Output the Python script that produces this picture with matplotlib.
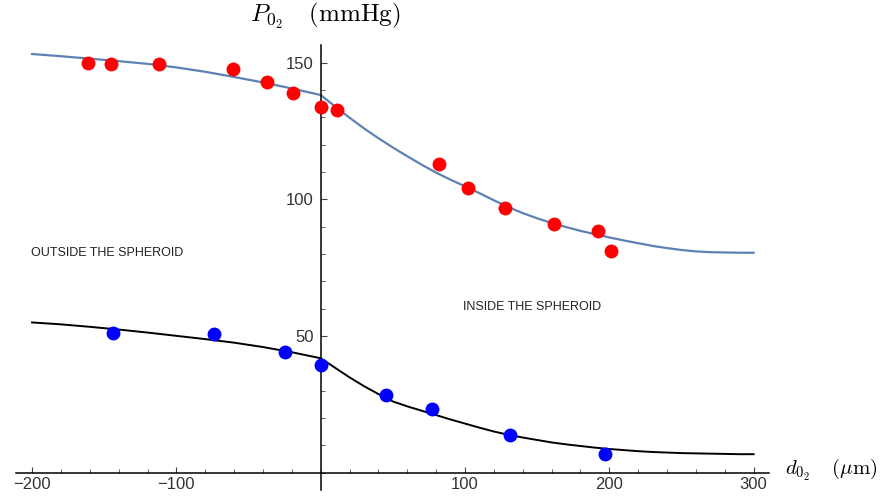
import numpy as np
import matplotlib.pyplot as plt
from matplotlib.ticker import FixedLocator, MultipleLocator

plt.rcParams['mathtext.fontset'] = 'cm'

# measured points
red_x = [-161, -145, -112, -61, -37, -19, 0, 11, 82, 102, 128, 162, 192, 201]
red_y = [149.8, 149.4, 149.4, 147.7, 142.8, 138.8, 134.0, 132.7, 113.0, 104.1, 97.0, 90.9, 88.5, 81.1]
blue_x = [-144, -74, -25, 0.5, 45, 77, 131, 197]
blue_y = [51.2, 50.9, 44.3, 39.3, 28.3, 23.2, 13.9, 6.8]

# fitted curves
fit_x = [-200, -180, -160, -140, -120, -100, -80, -60, -40, -20, 0,
         10, 20, 30, 40, 50, 60, 70, 80, 90, 100, 110, 120, 130, 140, 150,
         160, 170, 180, 190, 200, 210, 220, 230, 240, 250, 260, 270, 280, 290, 300]
fit_top = [153.2, 152.4, 151.5, 150.6, 149.6, 148.3, 146.7, 144.8, 142.8, 140.6, 138.2,
           134.0, 129.9, 126.0, 122.4, 119.0, 115.8, 112.7, 109.8, 107.2, 104.8, 102.3, 99.7, 97.2, 95.0, 93.1,
           91.4, 89.9, 88.5, 87.3, 86.1, 85.0, 84.0, 83.0, 82.2, 81.5, 81.0, 80.7, 80.6, 80.5, 80.5]
fit_bot = [55.0, 54.3, 53.4, 52.4, 51.3, 50.1, 48.9, 47.6, 46.0, 44.1, 41.9,
           38.4, 34.9, 31.7, 28.8, 26.1, 24.3, 22.7, 21.1, 19.5, 18.0, 16.5, 15.1, 13.9, 12.9, 12.0,
           11.1, 10.4, 9.8, 9.2, 8.7, 8.3, 7.9, 7.6, 7.4, 7.2, 7.1, 7.0, 6.9, 6.8, 6.8]

x_ticks = [-200, -100, 100, 200, 300]
y_ticks = [50, 100, 150]

fig = plt.figure(figsize=(8.82, 4.99), dpi=100)
ax = fig.add_axes([16.2 / 882, 9 / 499, 753.3 / 882, 445 / 499])

ax.plot(fit_x, fit_top, color='#5E81B5', lw=1.6, zorder=2)
ax.plot(fit_x, fit_bot, color='black', lw=1.4, zorder=2)
ax.plot(red_x, red_y, 'o', color='#ff0000', ms=10, mew=0, zorder=3)
ax.plot(blue_x, blue_y, 'o', color='#0000ff', ms=10, mew=0, zorder=3)

ax.set_xlim(-211, 311)
ax.set_ylim(-6.3, 156.5)

ax.spines['left'].set_position(('data', 0))
ax.spines['bottom'].set_position(('data', 0))
ax.spines['right'].set_visible(False)
ax.spines['top'].set_visible(False)
for s in ('left', 'bottom'):
    ax.spines[s].set_linewidth(1.1)

ax.xaxis.set_major_locator(FixedLocator(x_ticks))
ax.yaxis.set_major_locator(FixedLocator(y_ticks))
ax.xaxis.set_minor_locator(MultipleLocator(20))
ax.yaxis.set_minor_locator(MultipleLocator(10))
ax.tick_params(which='both', direction='in', colors='#444444', labelcolor='#333333')
ax.tick_params(which='major', length=4, width=0.8, labelsize=12)
ax.tick_params(which='minor', length=2.8, width=0.6)
ax.tick_params(axis='y', pad=5)
ax.tick_params(axis='x', pad=3)
for lab in ax.get_xticklabels() + ax.get_yticklabels():
    lab.set_family('Liberation Sans')

ax.text(-201, 80.4, 'OUTSIDE THE SPHEROID', fontsize=9, family='Liberation Sans',
        color='#222222', va='center', ha='left')
ax.text(98.6, 60.6, 'INSIDE THE SPHEROID', fontsize=9, family='Liberation Sans',
        color='#222222', va='center', ha='left')

fig.text(250 / 882, 1 - 22 / 499, r'$P_{0_2}\;\;\;\;(\mathrm{mmHg})$', fontsize=18, va='baseline')
fig.text(785 / 882, 1 - 475 / 499, r'$d_{0_2}\;\;\;\;(\mu\mathrm{m})$', fontsize=15, va='baseline')

fig.savefig('out.png', dpi=100)
